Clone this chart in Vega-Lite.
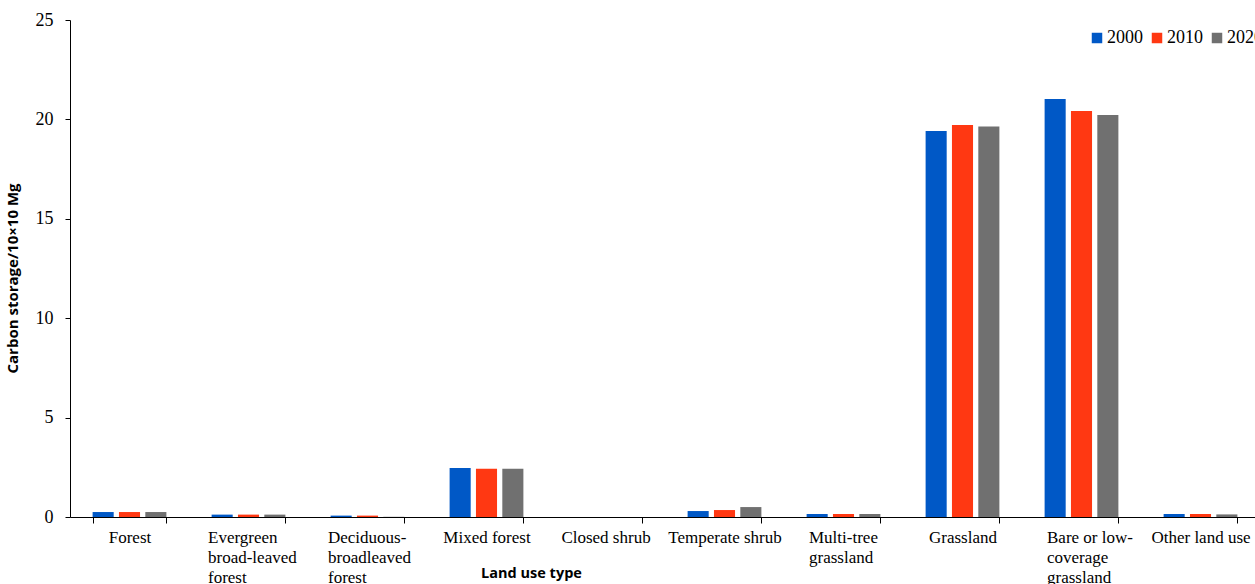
{
  "$schema": "https://vega.github.io/schema/vega-lite/v6.json",
  "width": 1190,
  "height": 497,
  "autosize": {"type": "none"},
  "padding": {"left": 70, "top": 20, "right": 0, "bottom": 67},
  "background": "white",
  "data": {
    "values": [
      {"type": "Forest", "year": "2000", "storage": 0.25},
      {"type": "Forest", "year": "2010", "storage": 0.25},
      {"type": "Forest", "year": "2020", "storage": 0.25},
      {"type": "Evergreen broad-leaved forest", "year": "2000", "storage": 0.12},
      {"type": "Evergreen broad-leaved forest", "year": "2010", "storage": 0.12},
      {"type": "Evergreen broad-leaved forest", "year": "2020", "storage": 0.12},
      {"type": "Deciduous-broadleaved forest", "year": "2000", "storage": 0.07},
      {"type": "Deciduous-broadleaved forest", "year": "2010", "storage": 0.07},
      {"type": "Deciduous-broadleaved forest", "year": "2020", "storage": 0.01},
      {"type": "Mixed forest", "year": "2000", "storage": 2.46},
      {"type": "Mixed forest", "year": "2010", "storage": 2.43},
      {"type": "Mixed forest", "year": "2020", "storage": 2.43},
      {"type": "Closed shrub", "year": "2000", "storage": 0},
      {"type": "Closed shrub", "year": "2010", "storage": 0},
      {"type": "Closed shrub", "year": "2020", "storage": 0},
      {"type": "Temperate shrub", "year": "2000", "storage": 0.3},
      {"type": "Temperate shrub", "year": "2010", "storage": 0.35},
      {"type": "Temperate shrub", "year": "2020", "storage": 0.5},
      {"type": "Multi-tree grassland", "year": "2000", "storage": 0.15},
      {"type": "Multi-tree grassland", "year": "2010", "storage": 0.15},
      {"type": "Multi-tree grassland", "year": "2020", "storage": 0.15},
      {"type": "Grassland", "year": "2000", "storage": 19.42},
      {"type": "Grassland", "year": "2010", "storage": 19.72},
      {"type": "Grassland", "year": "2020", "storage": 19.64},
      {"type": "Bare or low-coverage grassland", "year": "2000", "storage": 21.03},
      {"type": "Bare or low-coverage grassland", "year": "2010", "storage": 20.42},
      {"type": "Bare or low-coverage grassland", "year": "2020", "storage": 20.22},
      {"type": "Other land use", "year": "2000", "storage": 0.15},
      {"type": "Other land use", "year": "2010", "storage": 0.15},
      {"type": "Other land use", "year": "2020", "storage": 0.13}
    ]
  },
  "mark": {"type": "bar"},
  "encoding": {
    "x": {
      "field": "type",
      "type": "nominal",
      "sort": null,
      "scale": {"paddingInner": 0.38, "paddingOuter": 0.19},
      "axis": {
        "title": "Land use type",
        "titleFont": "Open Sans",
        "titleFontWeight": "bold",
        "titleFontSize": 14.5,
        "titleColor": "black",
        "titleX": 461,
        "titleY": 56,
        "titleBaseline": "middle",
        "labelAngle": 0,
        "labelFont": "Liberation Serif",
        "labelFontSize": 17,
        "labelColor": "black",
        "labelPadding": 6,
        "labelLineHeight": 20,
        "labelBaseline": "top",
        "labelExpr": "datum.label == 'Evergreen broad-leaved forest' ? ['Evergreen', 'broad-leaved', 'forest'] : datum.label == 'Deciduous-broadleaved forest' ? ['Deciduous-', 'broadleaved', 'forest'] : datum.label == 'Multi-tree grassland' ? ['Multi-tree', 'grassland'] : datum.label == 'Bare or low-coverage grassland' ? ['Bare or low-', 'coverage', 'grassland'] : datum.label",
        "labelAlign": {
          "condition": {"test": "indexof(['Evergreen broad-leaved forest', 'Deciduous-broadleaved forest', 'Multi-tree grassland', 'Bare or low-coverage grassland'], datum.value) >= 0", "value": "left"},
          "value": "center"
        },
        "labelOffset": {
          "condition": [
            {"test": "datum.value == 'Evergreen broad-leaved forest'", "value": -41},
            {"test": "datum.value == 'Deciduous-broadleaved forest'", "value": -40},
            {"test": "datum.value == 'Multi-tree grassland'", "value": -35},
            {"test": "datum.value == 'Bare or low-coverage grassland'", "value": -35}
          ],
          "value": 0
        },
        "labelOverlap": false,
        "tickBand": "extent",
        "ticks": true,
        "tickSize": 6,
        "tickColor": "black",
        "domainColor": "black",
        "grid": false
      }
    },
    "xOffset": {
      "field": "year",
      "type": "nominal",
      "scale": {"paddingInner": 0.2, "paddingOuter": 0}
    },
    "y": {
      "field": "storage",
      "type": "quantitative",
      "scale": {"domain": [0, 25]},
      "axis": {
        "title": "Carbon storage/10×10 Mg",
        "titleFont": "Open Sans",
        "titleFontWeight": "bold",
        "titleFontSize": 15,
        "titleColor": "black",
        "titleX": -50,
        "titleY": 258,
        "values": [0, 5, 10, 15, 20, 25],
        "labelFont": "Liberation Serif",
        "labelFontSize": 18,
        "labelColor": "black",
        "labelPadding": 12,
        "tickSize": 5,
        "tickColor": "black",
        "domainColor": "black",
        "grid": false
      }
    },
    "color": {
      "field": "year",
      "type": "nominal",
      "scale": {"domain": ["2000", "2010", "2020"], "range": ["#0058c6", "#ff3812", "#707070"]},
      "legend": {
        "title": null,
        "orient": "none",
        "direction": "horizontal",
        "legendX": 1018,
        "legendY": 9,
        "symbolType": "square",
        "symbolSize": 110,
        "symbolOpacity": 1,
        "symbolStrokeWidth": 0,
        "labelFont": "Liberation Serif",
        "labelFontSize": 18,
        "labelColor": "black",
        "labelOffset": 1,
        "columnPadding": 5
      }
    }
  },
  "config": {
    "view": {"stroke": null},
    "axis": {"domainWidth": 1, "tickWidth": 1}
  }
}
